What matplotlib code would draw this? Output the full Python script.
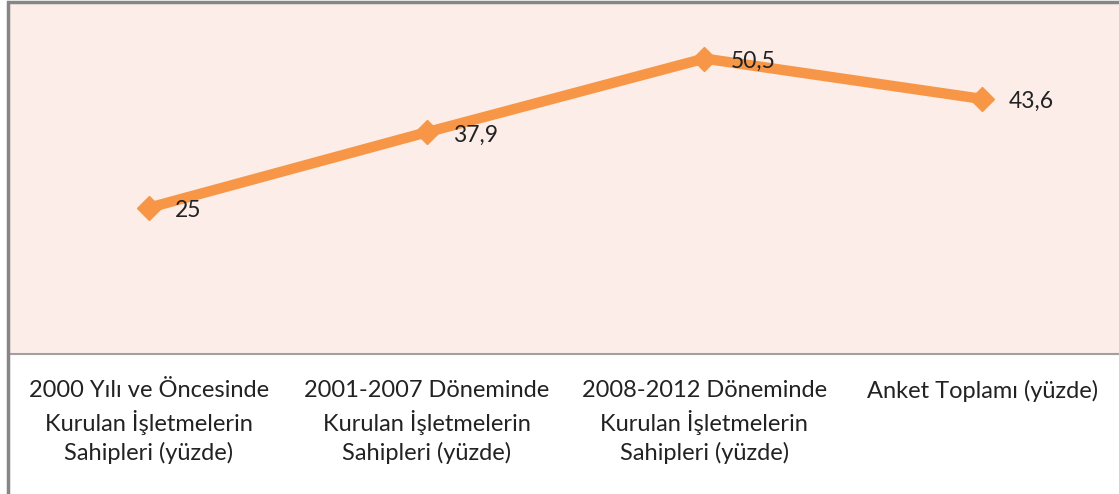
import matplotlib.pyplot as plt
from matplotlib.patches import Rectangle

kategoriler = ['2000 Yılı ve Öncesinde\nKurulan İşletmelerin\nSahipleri (yüzde)',
               '2001-2007 Döneminde\nKurulan İşletmelerin\nSahipleri (yüzde)',
               '2008-2012 Döneminde\nKurulan İşletmelerin\nSahipleri (yüzde)',
               'Anket Toplamı (yüzde)']
degerler = [25, 37.9, 50.5, 43.6]
etiketler = ['25', '37,9', '50,5', '43,6']

plt.rcParams['font.family'] = ['Lato', 'DejaVu Sans']

fig = plt.figure(figsize=(11.19, 4.94), dpi=100)
ax = fig.add_axes([10 / 1119, 140 / 494, 1111 / 1119, 351 / 494])
ax.set_facecolor('#FCEDE8')

x = list(range(len(degerler)))
ax.plot(x, degerler, color='#F79646', lw=7.5, marker='D', markersize=12.5,
        solid_capstyle='round', zorder=3)
for xi, v, t in zip(x, degerler, etiketler):
    ax.annotate(t, (xi, v), xytext=(19, -2), textcoords='offset points',
                va='center', ha='left', fontsize=16.5, color='#222222')

ax.set_xlim(-0.5, 3.5)
ax.set_ylim(0, 60)
ax.set_yticks([])
ax.set_xticks(x)
ax.set_xticklabels(kategoriler, fontsize=17, linespacing=1.4, color='#222222')
ax.tick_params(axis='x', length=0, pad=19)
for s in ['top', 'right', 'left']:
    ax.spines[s].set_visible(False)
ax.spines['bottom'].set_color('#A0A0A0')
ax.spines['bottom'].set_linewidth(1.5)

# dis cerceve
fig.patches.append(Rectangle((8 / 1119, -0.1), 1.2, 1.1 - 2 / 494, transform=fig.transFigure,
                             fill=False, edgecolor='#868686', lw=2.5))

fig.savefig('out.png', dpi=100)
